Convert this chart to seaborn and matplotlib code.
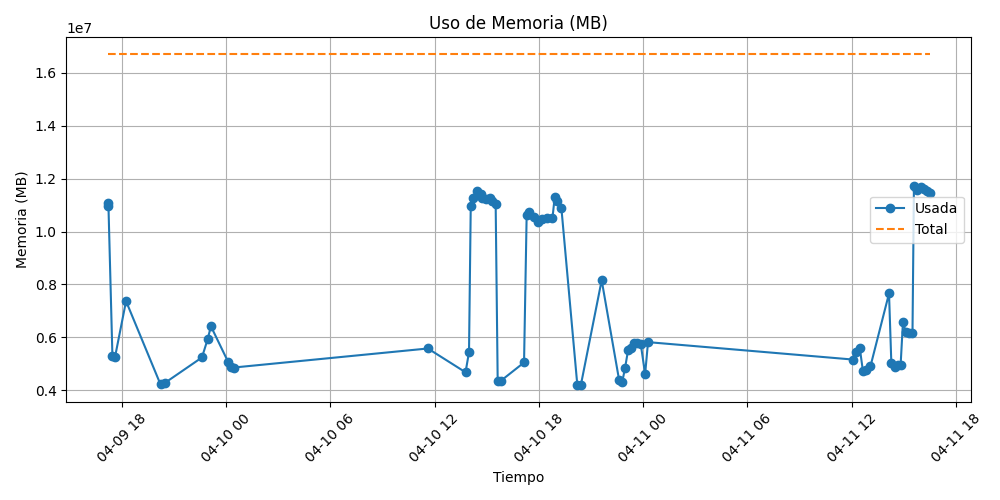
import pandas as pd
import seaborn as sns
import matplotlib
matplotlib.use('Agg')
import matplotlib.pyplot as plt

# timestamps of each sample
tiempos = [
    '2024-04-09 17:11', '2024-04-09 17:14', '2024-04-09 17:28', '2024-04-09 17:37',
    '2024-04-09 18:15', '2024-04-09 20:14', '2024-04-09 20:28', '2024-04-09 22:37',
    '2024-04-09 22:57', '2024-04-09 23:08', '2024-04-10 00:08', '2024-04-10 00:18',
    '2024-04-10 00:27', '2024-04-10 11:37', '2024-04-10 13:47', '2024-04-10 13:59',
    '2024-04-10 14:05', '2024-04-10 14:13', '2024-04-10 14:28', '2024-04-10 14:39',
    '2024-04-10 14:45', '2024-04-10 14:57', '2024-04-10 15:10', '2024-04-10 15:20',
    '2024-04-10 15:31', '2024-04-10 15:38', '2024-04-10 15:48', '2024-04-10 17:09',
    '2024-04-10 17:18', '2024-04-10 17:26', '2024-04-10 17:43', '2024-04-10 17:57',
    '2024-04-10 18:12', '2024-04-10 18:27', '2024-04-10 18:47', '2024-04-10 18:55',
    '2024-04-10 19:04', '2024-04-10 19:18', '2024-04-10 20:13', '2024-04-10 20:25',
    '2024-04-10 21:37', '2024-04-10 22:37', '2024-04-10 22:48', '2024-04-10 22:58',
    '2024-04-10 23:08', '2024-04-10 23:17', '2024-04-10 23:29', '2024-04-10 23:40',
    '2024-04-10 23:52', '2024-04-11 00:07', '2024-04-11 00:17', '2024-04-11 12:06',
    '2024-04-11 12:14', '2024-04-11 12:28', '2024-04-11 12:39', '2024-04-11 12:51',
    '2024-04-11 13:05', '2024-04-11 14:09', '2024-04-11 14:17', '2024-04-11 14:29',
    '2024-04-11 14:40', '2024-04-11 14:49', '2024-04-11 14:57', '2024-04-11 15:07',
    '2024-04-11 15:18', '2024-04-11 15:30', '2024-04-11 15:35', '2024-04-11 15:44',
    '2024-04-11 15:58', '2024-04-11 16:09', '2024-04-11 16:19', '2024-04-11 16:29',
]

# used memory (x1e6)
usada = [
    10.97, 11.09, 5.28, 5.26, 7.37, 4.22, 4.27, 5.24, 5.94, 6.42, 5.06, 4.88,
    4.86, 5.58, 4.68, 5.44, 10.97, 11.28, 11.54, 11.44, 11.26, 11.22, 11.26, 11.17,
    11.04, 4.35, 4.35, 5.05, 10.62, 10.75, 10.56, 10.37, 10.46, 10.50, 10.50, 11.32,
    11.17, 10.88, 4.19, 4.19, 8.16, 4.40, 4.31, 4.86, 5.51, 5.58, 5.77, 5.79,
    5.74, 4.61, 5.82, 5.16, 5.45, 5.60, 4.72, 4.76, 4.91, 7.66, 5.03, 4.88,
    4.95, 4.95, 6.57, 6.21, 6.17, 6.15, 11.72, 11.57, 11.70, 11.62, 11.52, 11.45,
]

total_mem = 16.72  # x1e6

df = pd.DataFrame({
    'Tiempo': pd.to_datetime(tiempos),
    'Usada': [v * 1e6 for v in usada],
})
df['Total'] = total_mem * 1e6

fig, ax = plt.subplots(figsize=(10, 5), dpi=100)
sns.lineplot(data=df, x='Tiempo', y='Usada', ax=ax, marker='o', color='#1f77b4',
             markeredgecolor='#1f77b4', markeredgewidth=1, markersize=6,
             linewidth=1.5, label='Usada')
sns.lineplot(data=df, x='Tiempo', y='Total', ax=ax, color='#ff7f0e',
             linestyle='--', linewidth=1.5, label='Total')

ax.set_title('Uso de Memoria (MB)')
ax.set_xlabel('Tiempo')
ax.set_ylabel('Memoria (MB)')
ax.grid(True)
ax.legend(loc='center right')
plt.xticks(rotation=45)
plt.tight_layout()
plt.savefig('out.png', dpi=100)
